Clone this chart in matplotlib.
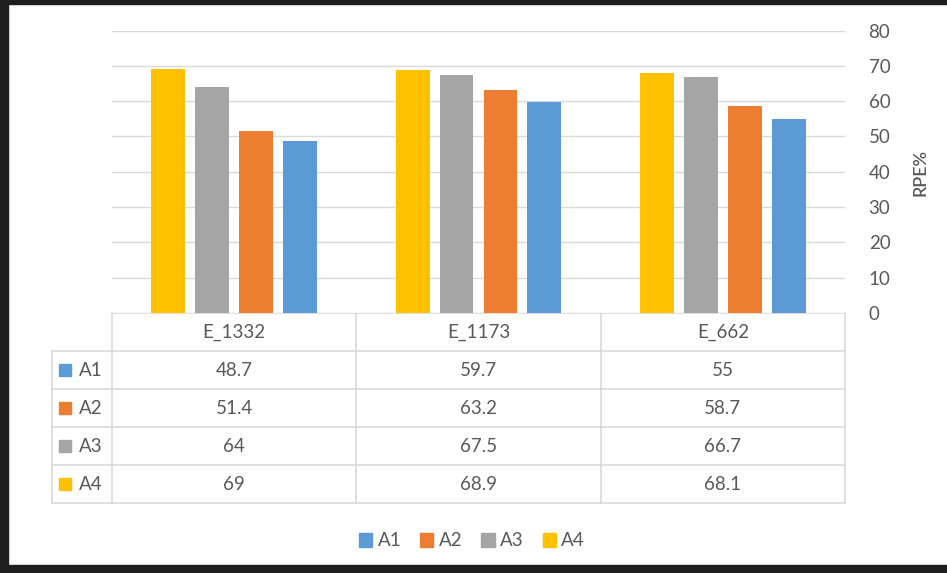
import numpy as np
import matplotlib.pyplot as plt
from matplotlib.patches import Patch, Rectangle
from matplotlib.lines import Line2D

plt.rcParams['font.family'] = ['Lato', 'DejaVu Sans']

# data
categories = ['E_1332', 'E_1173', 'E_662']
series = ['A1', 'A2', 'A3', 'A4']
values = {
    'A1': [48.7, 59.7, 55],
    'A2': [51.4, 63.2, 58.7],
    'A3': [64, 67.5, 66.7],
    'A4': [69, 68.9, 68.1],
}
colors = {'A1': '#5B9BD5', 'A2': '#ED7D31', 'A3': '#A5A5A5', 'A4': '#FFC000'}
yticks = [0, 10, 20, 30, 40, 50, 60, 70, 80]

W, H = 947, 573
fig = plt.figure(figsize=(W / 100, H / 100), dpi=100)
txt = '#595959'
grid = '#D9D9D9'

# plot area in pixels
x0, x1 = 112, 845
y_top, y_zero = 30.5, 313
ax = fig.add_axes([x0 / W, 1 - y_zero / H, (x1 - x0) / W, (y_zero - y_top) / H])

# bars are drawn A4 -> A1 from left to right
order = series[::-1]
bw, step = 0.139, 0.18
x = np.arange(len(categories)) + 0.5
for i, s in enumerate(order):
    off = (i - (len(order) - 1) / 2) * step
    ax.bar(x + off, values[s], width=bw, color=colors[s], zorder=3)

ax.set_xlim(0, len(categories))
ax.set_ylim(0, 80)
ax.set_yticks(yticks)
ax.yaxis.tick_right()
ax.tick_params(axis='y', length=0, pad=17, labelsize=13.5, labelcolor=txt)
ax.set_xticks([])
ax.grid(axis='y', color=grid, linewidth=1, zorder=0)
for sp in ax.spines.values():
    sp.set_visible(False)

fig.text(920 / W, 1 - 172 / H, 'RPE%', rotation=90, ha='center', va='center',
         fontsize=13, color=txt, fontweight='semibold')

# overlay in pixel coordinates for the data table and frame
ov = fig.add_axes([0, 0, 1, 1], zorder=-1)
ov.set_xlim(0, W)
ov.set_ylim(H, 0)
ov.axis('off')

col_w = (x1 - x0) / len(categories)
row_h = 38
hdr_top = y_zero
lab_x0 = 52
n_rows = len(series)
tbl_bot = hdr_top + row_h * (n_rows + 1)


def hline(xa, xb, y):
    ov.add_line(Line2D([xa, xb], [y, y], color=grid, lw=1.2))


def vline(x, ya, yb):
    ov.add_line(Line2D([x, x], [ya, yb], color=grid, lw=1.2))


hline(x0, x1, hdr_top)
for r in range(1, n_rows + 2):
    hline(lab_x0, x1, hdr_top + r * row_h)
vline(lab_x0, hdr_top + row_h, tbl_bot)
for c in range(len(categories) + 1):
    vline(x0 + c * col_w, hdr_top, tbl_bot)

for c, cat in enumerate(categories):
    ov.text(x0 + (c + 0.5) * col_w, hdr_top + row_h / 2, cat, ha='center',
            va='center', fontsize=13.5, color=txt)

for r, s in enumerate(series):
    yc = hdr_top + (r + 1.5) * row_h
    ov.add_patch(Rectangle((59, yc - 6), 12, 12, color=colors[s]))
    ov.text(79, yc, s, ha='left', va='center', fontsize=13.5, color=txt)
    for c, v in enumerate(values[s]):
        ov.text(x0 + (c + 0.5) * col_w, yc, f'{v:g}', ha='center',
                va='center', fontsize=13.5, color=txt)

# dark frame
frame = '#1e1e1e'
ov.add_patch(Rectangle((0, 0), W, 4, color=frame))
ov.add_patch(Rectangle((0, 0), 8, H, color=frame))
ov.add_patch(Rectangle((0, 565), W, 8, color=frame))

handles = [Patch(color=colors[s]) for s in series]
fig.legend(handles, series, ncol=4, loc='center',
           bbox_to_anchor=(472 / W, 1 - 541 / H), frameon=False,
           handlelength=0.7, handleheight=0.7, handletextpad=0.3,
           columnspacing=1.0, fontsize=13.5, labelcolor=txt)

fig.savefig('out.png', dpi=100)
